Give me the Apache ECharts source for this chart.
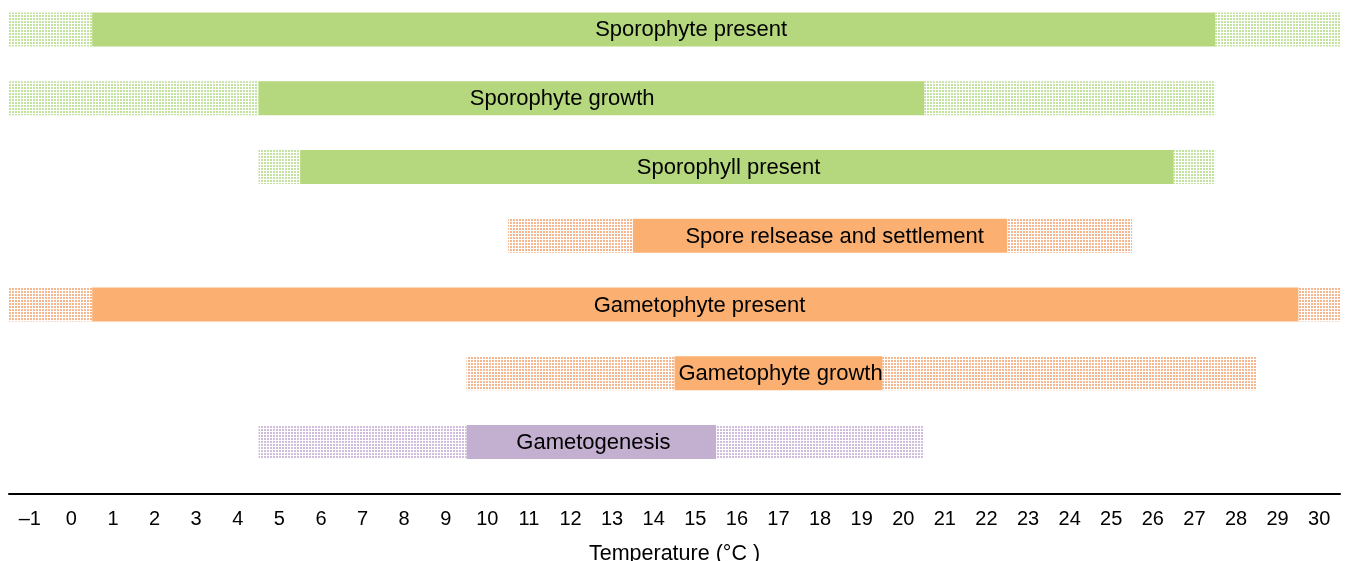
<!DOCTYPE html>
<html>
<head>
<meta charset="utf-8">
<script src="https://cdn.jsdelivr.net/npm/echarts@6/dist/echarts.min.js"></script>
<style>
  html, body { margin: 0; padding: 0; background: #fff; }
  #chart { width: 1347px; height: 561px; }
</style>
</head>
<body>
<div id="chart"></div>
<script>
// stages, top to bottom
var stages = ['Sporophyte present', 'Sporophyte growth', 'Sporophyll present',
  'Spore relsease and settlement', 'Gametophyte present', 'Gametophyte growth', 'Gametogenesis'];
// temperature range (dotted) and optimum (solid), °C
var rangeLow  = [-1.5, -1.5, 4.5, 10.5, -1.5, 9.5, 4.5];
var optLow    = [0.5, 4.5, 5.5, 13.5, 0.5, 14.5, 9.5];
var optHigh   = [27.5, 20.5, 26.5, 22.5, 29.5, 19.5, 15.5];
var rangeHigh = [30.5, 27.5, 27.5, 25.5, 30.5, 28.5, 20.5];
// where the stage name sits
var labelAt   = [14.9, 11.8, 15.8, 18.35, 15.1, 17.05, 12.55];
var colorIdx  = [0, 0, 0, 1, 1, 1, 2];
var tickLabels = [];
for (var t = -1; t <= 30; t++) tickLabels.push(t);

var colors = ['#b5d77d', '#fbb072', '#c3afcf'];
var dotColors = ['rgba(155,205,95,0.6)', 'rgba(240,145,85,0.65)', 'rgba(175,145,195,0.6)'];

function makeDots(c) {
  var cv = document.createElement('canvas');
  cv.width = 3; cv.height = 3;
  var ctx = cv.getContext('2d');
  ctx.fillStyle = c;
  ctx.fillRect(0, 0, 2, 2);
  return cv;
}
var patterns = dotColors.map(makeDots);

var segs = [];
for (var i = 0; i < stages.length; i++) {
  segs.push([i, rangeLow[i], optLow[i], 1]);
  segs.push([i, optLow[i], optHigh[i], 0]);
  segs.push([i, optHigh[i], rangeHigh[i], 1]);
}
var labels = stages.map(function (s, i) { return [i, labelAt[i]]; });

var chart = echarts.init(document.getElementById('chart'));
chart.setOption({
  animation: false,
  grid: { left: 9, right: 7, top: -5, bottom: 84.6, outerBoundsMode: 'none' },
  xAxis: {
    type: 'value', min: -1.5, max: 30.5, offset: 17,
    splitLine: { show: false },
    axisTick: { show: false },
    axisLine: { show: true, lineStyle: { color: '#000', width: 2 } },
    axisLabel: {
      customValues: tickLabels,
      color: '#000', fontSize: 20, fontFamily: 'Liberation Sans', margin: 16,
      formatter: function (v) { return v < 0 ? '\u2013' + (-v) : String(v); }
    },
    name: 'Temperature (°C )', nameLocation: 'middle', nameGap: 50,
    nameTextStyle: { color: '#000', fontSize: 21.5, fontFamily: 'Liberation Sans' }
  },
  yAxis: {
    type: 'category', data: stages, inverse: true, show: false
  },
  series: [{
    type: 'custom',
    data: segs,
    encode: { x: [1, 2], y: 0 },
    renderItem: function (params, api) {
      var row = api.value(0), k = colorIdx[row];
      var a = api.coord([api.value(1), row]);
      var b = api.coord([api.value(2), row]);
      var h = 34;
      return {
        type: 'rect',
        shape: { x: a[0], y: a[1] - h / 2, width: b[0] - a[0], height: h },
        style: { fill: api.value(3) ? { image: patterns[k], repeat: 'repeat' } : colors[k] }
      };
    }
  }, {
    type: 'custom',
    data: labels,
    encode: { x: 1, y: 0 },
    z: 5,
    renderItem: function (params, api) {
      var row = api.value(0);
      var p = api.coord([api.value(1), row]);
      return {
        type: 'text', x: p[0], y: p[1] + 1,
        style: {
          text: stages[row], fill: '#000', fontSize: 22, fontFamily: 'Liberation Sans',
          align: 'center', verticalAlign: 'middle'
        }
      };
    }
  }]
});
</script>
</body>
</html>
